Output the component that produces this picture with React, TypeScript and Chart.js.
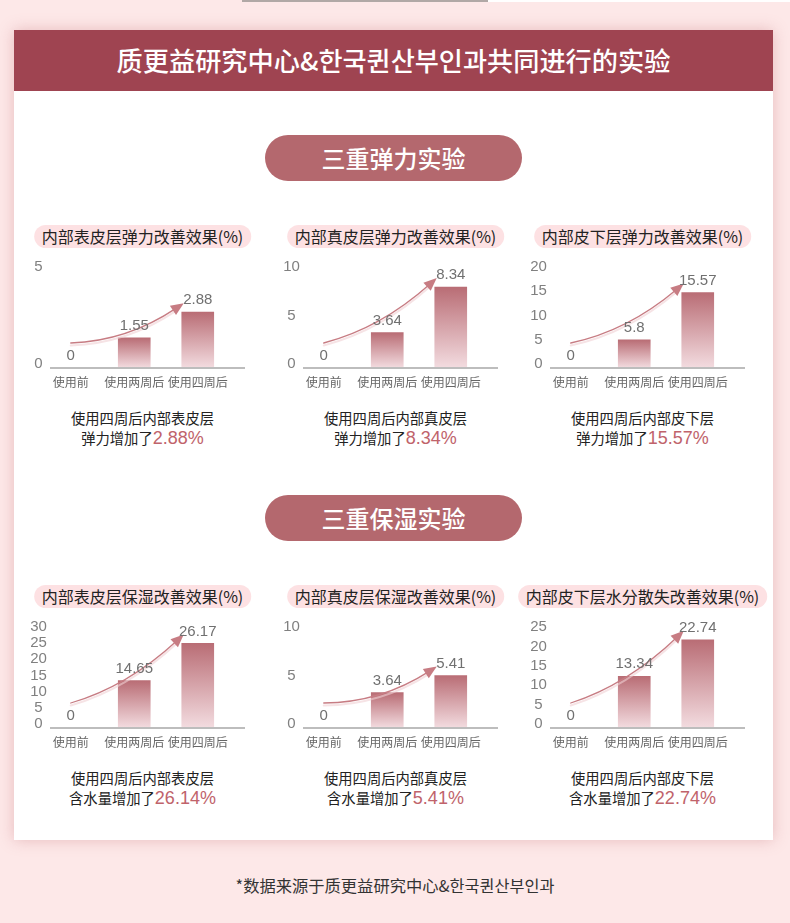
import React, { useEffect, useRef } from "react";
import { Chart, registerables } from "chart.js";

Chart.register(...registerables);

// ---------- data ----------
const categories = ["使用前", "使用两周后", "使用四周后"];

const elasticEpidermis = [0, 1.55, 2.88];
const elasticDermis = [0, 3.64, 8.34];
const elasticSubcutis = [0, 5.8, 15.57];
const moistEpidermis = [0, 14.65, 26.17];
const moistDermis = [0, 3.64, 5.41];
const moistSubcutis = [0, 13.34, 22.74];

const yAxisMax = [5, 10, 20, 30, 10, 25];
const yAxisStep = 5;

const chartTitles = [
  "内部表皮层弹力改善效果(%)",
  "内部真皮层弹力改善效果(%)",
  "内部皮下层弹力改善效果(%)",
  "内部表皮层保湿改善效果(%)",
  "内部真皮层保湿改善效果(%)",
  "内部皮下层水分散失改善效果(%)",
];
const captionFirst = [
  "使用四周后内部表皮层",
  "使用四周后内部真皮层",
  "使用四周后内部皮下层",
  "使用四周后内部表皮层",
  "使用四周后内部真皮层",
  "使用四周后内部皮下层",
];
const captionSecond = ["弹力增加了", "弹力增加了", "弹力增加了", "含水量增加了", "含水量增加了", "含水量增加了"];
const captionPercent = ["2.88%", "8.34%", "15.57%", "26.14%", "5.41%", "22.74%"];

const sectionTitles = ["三重弹力实验", "三重保湿实验"];
const headerTitle = "质更益研究中心&한국퀸산부인과共同进行的实验";
const footnote = "*数据来源于质更益研究中心&한국퀸산부인과";

const seriesList = [elasticEpidermis, elasticDermis, elasticSubcutis, moistEpidermis, moistDermis, moistSubcutis];

// ---------- styles ----------
const CJK = "'Noto Sans CJK SC', 'Noto Sans', sans-serif";
const LATIN = "'Liberation Sans', Arial, sans-serif";
const colCenters = [142.5, 395.5, 642.5];
const rowTops = [0, 360];

const arrowPlugin = {
  id: "growthArrow",
  afterDatasetsDraw(chart: any) {
    const bars = chart.getDatasetMeta(0).data;
    if (!bars || bars.length < 3) return;
    const ctx = chart.ctx;
    const yZero = chart.scales.y.getPixelForValue(0);
    const x0 = bars[0].x;
    const y0 = yZero - 25;
    const last = bars[bars.length - 1];
    const x1 = last.x - 14;
    const y1 = last.y - 9;
    const cx = (x0 + x1) / 2;
    const cy = (y0 + y1) / 2 + 18;
    let dx = x1 - cx;
    let dy = y1 - cy;
    const len = Math.hypot(dx, dy) || 1;
    dx /= len;
    dy /= len;
    const ex = x1 - dx * 9;
    const ey = y1 - dy * 9;
    ctx.save();
    ctx.lineCap = "round";
    // soft shadow line
    ctx.strokeStyle = "rgba(240, 208, 211, 0.6)";
    ctx.lineWidth = 2;
    ctx.beginPath();
    ctx.moveTo(x0, y0 + 2.5);
    ctx.quadraticCurveTo(cx, cy + 2.5, ex, ey + 2.5);
    ctx.stroke();
    // main line
    ctx.strokeStyle = "#c77c83";
    ctx.lineWidth = 1.3;
    ctx.beginPath();
    ctx.moveTo(x0, y0);
    ctx.quadraticCurveTo(cx, cy, ex, ey);
    ctx.stroke();
    // head
    const px = -dy;
    const py = dx;
    ctx.fillStyle = "#c77c83";
    ctx.beginPath();
    ctx.moveTo(x1, y1);
    ctx.lineTo(x1 - dx * 13 + px * 5.5, y1 - dy * 13 + py * 5.5);
    ctx.lineTo(x1 - dx * 13 - px * 5.5, y1 - dy * 13 - py * 5.5);
    ctx.closePath();
    ctx.fill();
    ctx.restore();
  },
};

const baselinePlugin = {
  id: "baseline",
  afterDatasetsDraw(chart: any) {
    const ctx = chart.ctx;
    const y = chart.scales.y.getPixelForValue(0);
    const left = chart.chartArea.left + 11;
    ctx.save();
    ctx.strokeStyle = "#bdbdbd";
    ctx.lineWidth = 2;
    ctx.beginPath();
    ctx.moveTo(left, y);
    ctx.lineTo(left + 195, y);
    ctx.stroke();
    ctx.restore();
  },
};

const valueLabelPlugin = {
  id: "valueLabels",
  afterDatasetsDraw(chart: any) {
    const ctx = chart.ctx;
    const data = chart.data.datasets[0].data;
    const bars = chart.getDatasetMeta(0).data;
    ctx.save();
    ctx.font = `15px ${LATIN}`;
    ctx.fillStyle = "#707070";
    ctx.textAlign = "center";
    ctx.textBaseline = "middle";
    bars.forEach((el: any, i: number) => {
      ctx.fillText(String(data[i]), el.x, el.y - 12);
    });
    ctx.restore();
  },
};

function BarPanel({ values, yMax, cx, top }: { values: number[]; yMax: number; cx: number; top: number }) {
  const ref = useRef<HTMLCanvasElement>(null);
  useEffect(() => {
    const canvas = ref.current;
    if (!canvas) return;
    const widest = String(yMax).length * 8.34;
    const chart = new Chart(canvas, {
      type: "bar",
      data: {
        labels: categories,
        datasets: [
          {
            data: values,
            barThickness: 32,
            borderWidth: 0,
            backgroundColor: (c: any) => {
              const ch = c.chart;
              const ys = ch.scales?.y;
              if (!ch.chartArea || !ys) return "#c98a90";
              const v = c.dataset.data[c.dataIndex];
              const t = ys.getPixelForValue(v);
              const b = ys.getPixelForValue(0);
              if (!(b > t)) return "#c98a90";
              const g = ch.ctx.createLinearGradient(0, t, 0, b);
              g.addColorStop(0, "#b96d75");
              g.addColorStop(1, "#f3dce0");
              return g;
            },
          },
        ],
      },
      options: {
        animation: false,
        responsive: false,
        layout: { padding: { left: 0, top: 21, right: 35.5, bottom: 0 } },
        plugins: { legend: { display: false }, tooltip: { enabled: false } },
        scales: {
          x: {
            grid: { display: false, drawTicks: false },
            border: { display: false },
            ticks: {
              color: "#666",
              font: { family: CJK, size: 12 },
              padding: 7,
              maxRotation: 0,
              autoSkip: false,
            },
            afterFit: (s: any) => {
              s.height = 32;
            },
          },
          y: {
            min: 0,
            max: yMax,
            grid: { display: false, drawTicks: false },
            border: { display: false },
            ticks: {
              stepSize: yAxisStep,
              autoSkip: false,
              mirror: true,
              color: "#808080",
              font: { family: LATIN, size: 15 },
              crossAlign: "center",
              padding: -0.5 - widest / 2,
              labelOffset: -4,
            },
            afterFit: (s: any) => {
              s.width = 19;
            },
          },
        },
      } as any,
      plugins: [baselinePlugin, arrowPlugin, valueLabelPlugin],
    });
    return () => chart.destroy();
  }, [values, yMax]);
  return (
    <canvas
      ref={ref}
      width={245}
      height={150}
      style={{ position: "absolute", left: cx - 122.5, top, width: 245, height: 150 }}
    />
  );
}

export default function App() {
  return (
    <div
      style={{
        position: "absolute",
        left: 0,
        top: 0,
        width: 790,
        height: 923,
        background: "#fde8e8",
        overflow: "hidden",
        fontFamily: CJK,
      }}
    >
      {/* top strip */}
      <div style={{ position: "absolute", left: 242, top: 0, width: 246, height: 2, background: "#b1a8a6" }} />
      <div style={{ position: "absolute", left: 488, top: 0, width: 302, height: 2, background: "#ffffff" }} />

      {/* card */}
      <div
        style={{
          position: "absolute",
          left: 14,
          top: 30,
          width: 759,
          height: 810,
          background: "#ffffff",
          boxShadow: "0 0 14px rgba(205, 130, 135, 0.45)",
        }}
      />
      <div
        style={{
          position: "absolute",
          left: 14,
          top: 30,
          width: 759,
          height: 61,
          background: "#9f4451",
          color: "#ffffff",
          fontSize: 26.2,
          fontWeight: 500,
          lineHeight: "61px",
          textAlign: "center",
          whiteSpace: "nowrap",
        }}
      >
        {headerTitle}
      </div>

      {sectionTitles.map((t, i) => (
        <div
          key={t}
          style={{
            position: "absolute",
            left: 265,
            top: 135 + i * 360,
            width: 257,
            height: 46,
            borderRadius: 23,
            background: "#b4686e",
            color: "#ffffff",
            fontSize: 24,
            fontWeight: 500,
            lineHeight: "46px",
            textAlign: "center",
            whiteSpace: "nowrap",
          }}
        >
          {t}
        </div>
      ))}

      {seriesList.map((vals, i) => {
        const col = i % 3;
        const row = Math.floor(i / 3);
        const cx = colCenters[col];
        const dy = rowTops[row];
        return (
          <React.Fragment key={i}>
            <div
              style={{
                position: "absolute",
                left: cx,
                top: 225 + dy,
                transform: "translateX(-50%)",
                height: 23,
                lineHeight: "23px",
                padding: "0 8px",
                borderRadius: 12,
                background: "#fde1e3",
                color: "#222",
                fontSize: 16,
                whiteSpace: "nowrap",
              }}
            >
              {chartTitles[i]}
            </div>
            <BarPanel values={vals} yMax={yAxisMax[i]} cx={cx} top={250 + dy} />
            <div
              style={{
                position: "absolute",
                left: cx - 110,
                width: 220,
                top: 408 + dy,
                textAlign: "center",
                color: "#222",
                fontSize: 14.3,
                lineHeight: "20px",
                whiteSpace: "nowrap",
              }}
            >
              <div>{captionFirst[i]}</div>
              <div>
                {captionSecond[i]}
                <span style={{ fontFamily: LATIN, fontSize: 18, color: "#c0636b" }}>{captionPercent[i]}</span>
              </div>
            </div>
          </React.Fragment>
        );
      })}

      <div
        style={{
          position: "absolute",
          left: 0,
          width: 790,
          top: 875,
          lineHeight: "20px",
          textAlign: "center",
          fontSize: 16.3,
          color: "#333",
          whiteSpace: "nowrap",
        }}
      >
        {footnote}
      </div>
    </div>
  );
}
